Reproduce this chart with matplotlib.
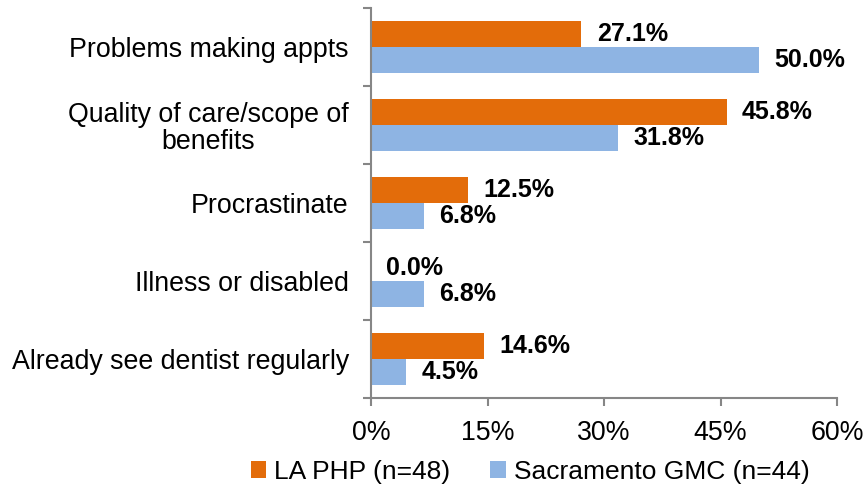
import matplotlib
matplotlib.use("Agg")
import matplotlib.pyplot as plt
import numpy as np
from matplotlib.ticker import FixedLocator, PercentFormatter

plt.rcParams['font.family'] = ['Liberation Sans', 'DejaVu Sans']

categories = ["Problems making appts", "Quality of care/scope of\nbenefits",
              "Procrastinate", "Illness or disabled", "Already see dentist regularly"]
la_php = [27.1, 45.8, 12.5, 0.0, 14.6]
sacramento = [50.0, 31.8, 6.8, 6.8, 4.5]
series_names = ["LA PHP (n=48)", "Sacramento GMC (n=44)"]
x_ticks = [0, 15, 30, 45, 60]

c_orange = "#E36C0A"
c_blue = "#8EB4E3"
c_axis = "#868686"

fig = plt.figure(figsize=(8.64, 4.95), dpi=100)
ax = fig.add_axes([371/864, 1-398/495, (837-371)/864, (398-8)/495])

y = np.arange(len(categories))
h = 0.33
b1 = ax.barh(y - h/2, la_php, height=h, color=c_orange, label=series_names[0])
b2 = ax.barh(y + h/2, sacramento, height=h, color=c_blue, label=series_names[1])

for bars, vals in ((b1, la_php), (b2, sacramento)):
    for rect, v in zip(bars, vals):
        ax.annotate(f"{v:.1f}%", xy=(v, rect.get_y() + rect.get_height()/2),
                    xytext=(11, 0), textcoords="offset points",
                    ha="left", va="center", fontsize=18, fontweight="bold", color="black")

ax.set_xlim(0, 60)
ax.set_ylim(len(categories) - 0.5, -0.5)
ax.set_xticks(x_ticks)
ax.xaxis.set_major_formatter(PercentFormatter(decimals=0))
ax.set_yticks(y)
ax.set_yticklabels(categories, multialignment="center", linespacing=1.05)
ax.yaxis.set_minor_locator(FixedLocator(np.arange(-0.5, len(categories), 1.0)))

ax.tick_params(axis="y", which="major", length=0, pad=16, labelsize=19.3)
ax.tick_params(axis="y", which="minor", length=6, width=1.5, color=c_axis, direction="out")
ax.tick_params(axis="x", which="major", length=6, width=1.5, color=c_axis, direction="out",
               pad=10, labelsize=19.3)

for s in ("top", "right"):
    ax.spines[s].set_visible(False)
for s in ("left", "bottom"):
    ax.spines[s].set_color(c_axis)
    ax.spines[s].set_linewidth(1.5)

fig.legend(handles=[b1, b2], loc="center", bbox_to_anchor=(530/864, 1-472/495),
           ncol=2, frameon=False, fontsize=19, handlelength=0.6, handleheight=0.6,
           handletextpad=0.3, columnspacing=1.5)

fig.savefig("out.png", dpi=100)
